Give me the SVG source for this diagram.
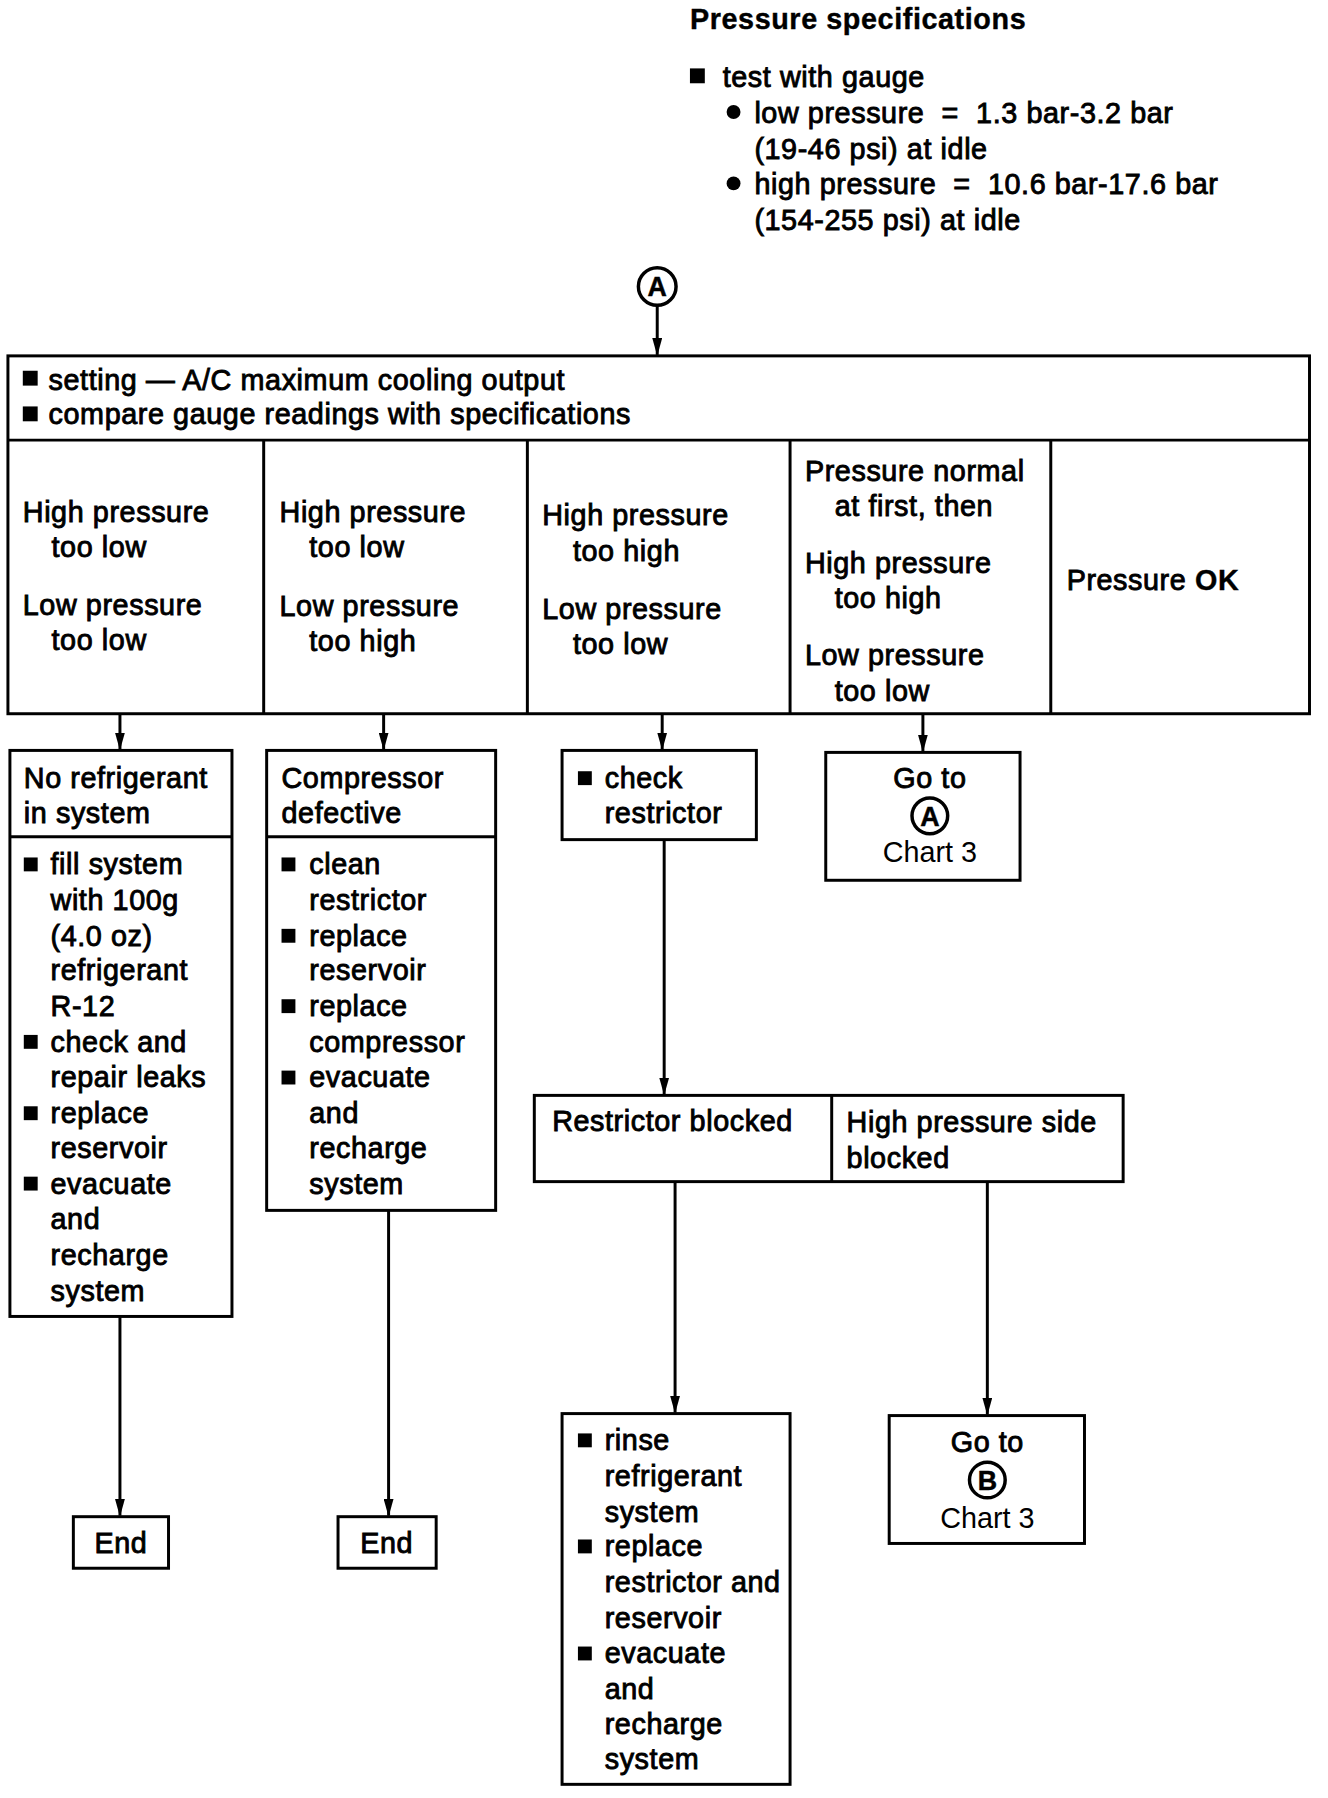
<svg xmlns="http://www.w3.org/2000/svg" width="1328" height="1798" viewBox="0 0 1328 1798">
<style>
text{font-family:"Liberation Sans",Arial,Helvetica,sans-serif;font-size:29px;fill:#000;stroke:#000;stroke-width:0.9px;letter-spacing:0.6px}
.b{font-weight:bold;stroke-width:0.4px}
.lt{stroke-width:0;letter-spacing:0}
.c{text-anchor:middle}
.ck{font-weight:bold;font-size:27px;stroke-width:0.5px;letter-spacing:0}
.box{fill:#fff;stroke:#000;stroke-width:3}
.ln{fill:none;stroke:#000;stroke-width:3}
.sq{fill:#000}
.circ{fill:#fff;stroke:#000;stroke-width:3.5}
</style>
<defs>
<marker id="ah" markerWidth="18" markerHeight="10" refX="17" refY="5" orient="auto" markerUnits="userSpaceOnUse" viewBox="0 0 18 10">
<path d="M0,0 L18,5 L0,10 Z" fill="#000"/>
</marker>
</defs>
<rect width="1328" height="1798" fill="#fff"/>
<g transform="scale(0.9913)">

<g id="specs">
<text x="696" y="29" class="b">Pressure specifications</text>
<rect x="696" y="69" width="15" height="15" class="sq"/>
<text x="729" y="88">test with gauge</text>
<circle cx="740" cy="113" r="7" class="sq"/>
<text x="761" y="124" xml:space="preserve">low pressure  =  1.3 bar-3.2 bar</text>
<text x="761" y="160">(19-46 psi) at idle</text>
<circle cx="740" cy="185" r="7" class="sq"/>
<text x="761" y="196" xml:space="preserve">high pressure  =  10.6 bar-17.6 bar</text>
<text x="761" y="232">(154-255 psi) at idle</text>
</g>

<g id="startA">
<circle cx="663" cy="289" r="19" class="circ"/>
<text x="663" y="299" class="c ck">A</text>
</g>

<g id="connectors">
<line x1="663" y1="308" x2="663" y2="358" class="ln" marker-end="url(#ah)"/>
<line x1="121" y1="720" x2="121" y2="756" class="ln" marker-end="url(#ah)"/>
<line x1="387" y1="720" x2="387" y2="756" class="ln" marker-end="url(#ah)"/>
<line x1="668" y1="720" x2="668" y2="756" class="ln" marker-end="url(#ah)"/>
<line x1="931" y1="720" x2="931" y2="758" class="ln" marker-end="url(#ah)"/>
<line x1="670" y1="847" x2="670" y2="1104" class="ln" marker-end="url(#ah)"/>
<line x1="121" y1="1328" x2="121" y2="1529" class="ln" marker-end="url(#ah)"/>
<line x1="392" y1="1221" x2="392" y2="1529" class="ln" marker-end="url(#ah)"/>
<line x1="681" y1="1192" x2="681" y2="1425" class="ln" marker-end="url(#ah)"/>
<line x1="996" y1="1192" x2="996" y2="1427" class="ln" marker-end="url(#ah)"/>
</g>

<g id="main">
<rect x="8" y="359" width="1313" height="361" class="box"/>
<line x1="8" y1="444" x2="1321" y2="444" class="ln"/>
<rect x="23" y="374" width="15" height="15" class="sq"/>
<text x="49" y="393">setting — A/C maximum cooling output</text>
<rect x="23" y="410" width="15" height="15" class="sq"/>
<text x="49" y="428">compare gauge readings with specifications</text>
</g>

<g id="col1">
<line x1="266" y1="444" x2="266" y2="720" class="ln"/>
<text x="23" y="527">High pressure</text>
<text x="52" y="562">too low</text>
<text x="23" y="620">Low pressure</text>
<text x="52" y="656">too low</text>
</g>
<g id="col2">
<line x1="532" y1="444" x2="532" y2="720" class="ln"/>
<text x="282" y="527">High pressure</text>
<text x="312" y="562">too low</text>
<text x="282" y="621">Low pressure</text>
<text x="312" y="657">too high</text>
</g>
<g id="col3">
<line x1="797" y1="444" x2="797" y2="720" class="ln"/>
<text x="547" y="530">High pressure</text>
<text x="578" y="566">too high</text>
<text x="547" y="624">Low pressure</text>
<text x="578" y="660">too low</text>
</g>
<g id="col4">
<line x1="1060" y1="444" x2="1060" y2="720" class="ln"/>
<text x="812" y="485">Pressure normal</text>
<text x="842" y="521">at first, then</text>
<text x="812" y="578">High pressure</text>
<text x="842" y="613">too high</text>
<text x="812" y="671">Low pressure</text>
<text x="842" y="707">too low</text>
</g>
<g id="col5">
<text x="1076" y="595">Pressure <tspan class="b">OK</tspan></text>
</g>

<g id="norefrigerant">
<rect x="10" y="757" width="224" height="571" class="box"/>
<line x1="10" y1="844" x2="234" y2="844" class="ln"/>
<text x="24" y="795">No refrigerant</text>
<text x="24" y="830">in system</text>
<rect x="24" y="865" width="14" height="14" class="sq"/>
<text x="51" y="882">fill system</text>
<text x="51" y="918">with 100g</text>
<text x="51" y="954">(4.0 oz)</text>
<text x="51" y="989">refrigerant</text>
<text x="51" y="1025">R-12</text>
<rect x="24" y="1044" width="14" height="14" class="sq"/>
<text x="51" y="1061">check and</text>
<text x="51" y="1097">repair leaks</text>
<rect x="24" y="1116" width="14" height="14" class="sq"/>
<text x="51" y="1133">replace</text>
<text x="51" y="1168">reservoir</text>
<rect x="24" y="1187" width="14" height="14" class="sq"/>
<text x="51" y="1204">evacuate</text>
<text x="51" y="1240">and</text>
<text x="51" y="1276">recharge</text>
<text x="51" y="1312">system</text>
</g>

<g id="compressor">
<rect x="269" y="757" width="231" height="464" class="box"/>
<line x1="269" y1="844" x2="500" y2="844" class="ln"/>
<text x="284" y="795">Compressor</text>
<text x="284" y="830">defective</text>
<rect x="284" y="865" width="14" height="14" class="sq"/>
<text x="312" y="882">clean</text>
<text x="312" y="918">restrictor</text>
<rect x="284" y="937" width="14" height="14" class="sq"/>
<text x="312" y="954">replace</text>
<text x="312" y="989">reservoir</text>
<rect x="284" y="1008" width="14" height="14" class="sq"/>
<text x="312" y="1025">replace</text>
<text x="312" y="1061">compressor</text>
<rect x="284" y="1080" width="14" height="14" class="sq"/>
<text x="312" y="1097">evacuate</text>
<text x="312" y="1133">and</text>
<text x="312" y="1168">recharge</text>
<text x="312" y="1204">system</text>
</g>

<g id="checkrestrictor">
<rect x="567" y="757" width="196" height="90" class="box"/>
<rect x="583" y="778" width="14" height="14" class="sq"/>
<text x="610" y="795">check</text>
<text x="610" y="830">restrictor</text>
</g>

<g id="gotoA">
<rect x="833" y="759" width="196" height="129" class="box"/>
<text x="938" y="795" class="c">Go to</text>
<circle cx="938" cy="823" r="18" class="circ"/>
<text x="938" y="833" class="c ck">A</text>
<text x="938" y="870" class="c lt">Chart 3</text>
</g>

<g id="blocked">
<rect x="539" y="1105" width="594" height="87" class="box"/>
<line x1="839" y1="1105" x2="839" y2="1192" class="ln"/>
<text x="557" y="1141">Restrictor blocked</text>
<text x="854" y="1142">High pressure side</text>
<text x="854" y="1178">blocked</text>
</g>

<g id="rinse">
<rect x="567" y="1426" width="230" height="374" class="box"/>
<rect x="583" y="1446" width="14" height="14" class="sq"/>
<text x="610" y="1463">rinse</text>
<text x="610" y="1499">refrigerant</text>
<text x="610" y="1535">system</text>
<rect x="583" y="1553" width="14" height="14" class="sq"/>
<text x="610" y="1570">replace</text>
<text x="610" y="1606">restrictor and</text>
<text x="610" y="1642">reservoir</text>
<rect x="583" y="1661" width="14" height="14" class="sq"/>
<text x="610" y="1678">evacuate</text>
<text x="610" y="1714">and</text>
<text x="610" y="1749">recharge</text>
<text x="610" y="1785">system</text>
</g>

<g id="gotoB">
<rect x="897" y="1428" width="197" height="129" class="box"/>
<text x="996" y="1465" class="c">Go to</text>
<circle cx="996" cy="1493" r="18" class="circ"/>
<text x="996" y="1503" class="c ck">B</text>
<text x="996" y="1541" class="c lt">Chart 3</text>
</g>

<g id="end1">
<rect x="74" y="1530" width="96" height="52" class="box"/>
<text x="122" y="1567" class="c">End</text>
</g>
<g id="end2">
<rect x="341" y="1530" width="99" height="52" class="box"/>
<text x="390" y="1567" class="c">End</text>
</g>
</g>
</svg>
